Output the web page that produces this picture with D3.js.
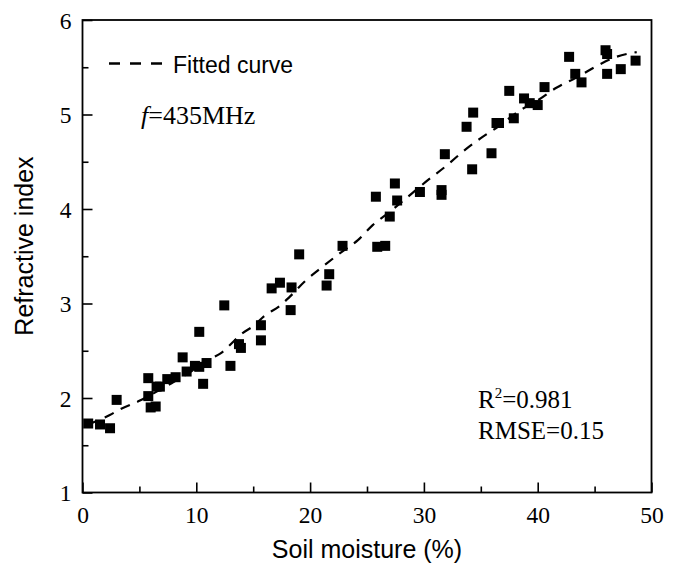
<!DOCTYPE html>
<html>
<head>
<meta charset="utf-8">
<script src="https://cdn.jsdelivr.net/npm/d3@7"></script>
<style>
  body { margin: 0; background: #fff; }
  svg { display: block; }
</style>
</head>
<body>
<div id="chart"></div>
<script>
// measured points: soil moisture (%) vs refractive index
let moisture = [0.5, 1.54, 2.42, 3.0, 5.78, 5.78, 5.99, 6.43, 6.51, 6.8,
    7.45, 8.18, 8.8, 9.15, 9.88, 10.26, 10.26, 10.6, 10.9, 12.46,
    13.0, 13.75, 13.92, 15.68, 15.68, 16.62, 17.35, 18.37, 18.29, 19.04,
    21.45, 21.68, 22.85, 25.9, 26.6, 27.0, 27.65, 27.45, 25.78, 29.65,
    31.55, 31.55, 31.84, 34.24, 35.94, 33.75, 34.33, 36.38, 36.6, 37.9,
    37.5, 38.8, 39.3, 40.0, 40.6, 42.76, 43.3, 43.85, 45.96, 46.1,
    46.1, 47.3, 48.6];
let refractive = [1.73, 1.72, 1.68, 1.98, 2.21, 2.02, 1.90, 1.91, 2.12, 2.12,
    2.20, 2.22, 2.43, 2.28, 2.34, 2.70, 2.33, 2.15, 2.37, 2.98,
    2.34, 2.57, 2.53, 2.77, 2.61, 3.16, 3.22, 3.17, 2.93, 3.52,
    3.19, 3.31, 3.61, 3.60, 3.61, 3.92, 4.09, 4.27, 4.13, 4.18,
    4.20, 4.15, 4.58, 4.42, 4.59, 4.87, 5.02, 4.91, 4.91, 4.96,
    5.25, 5.17, 5.12, 5.10, 5.29, 5.61, 5.43, 5.34, 5.68, 5.64,
    5.43, 5.48, 5.57];

// fitted curve
let fitX = [0.5, 2.4, 3.3, 5, 7, 9, 11.35, 12.1, 14.1, 15, 16, 17.4, 18.2, 19.5,
    21, 22.6, 24.2, 25.5, 27, 28.5, 30.4, 32, 33.45, 35, 36.5, 38.4, 40,
    41.6, 43.4, 45.3, 46.9, 48.7];
let fitY = [1.72, 1.82, 1.88, 1.97, 2.1, 2.24, 2.42, 2.47, 2.69, 2.76, 2.87, 2.98, 3.07, 3.23,
    3.38, 3.53, 3.67, 3.83, 3.97, 4.12, 4.31, 4.46, 4.61, 4.75, 4.87, 5.04, 5.15,
    5.28, 5.39, 5.52, 5.61, 5.66];

let xTicks = [0, 10, 20, 30, 40, 50];
let xMinor = [5, 15, 25, 35, 45];
let yTicks = [1, 2, 3, 4, 5, 6];
let yMinor = [1.5, 2.5, 3.5, 4.5, 5.5];

const chart_width = 676, chart_height = 566;
const plotLeft = 82.5, plotRight = 651.5, plotTop = 20, plotBottom = 492.5;
const serif = '"Liberation Serif", "Times New Roman", serif';
const sans = '"Liberation Sans", Arial, sans-serif';

const xScale = d3.scaleLinear().domain([0, 50]).range([plotLeft, plotRight]);
const yScale = d3.scaleLinear().domain([1, 6]).range([plotBottom, plotTop]);

let svg = d3.select('#chart')
    .append('svg')
    .attr('width', chart_width)
    .attr('height', chart_height);

// ticks pointing inward
let xAxis = d3.axisBottom(xScale).tickValues(xTicks).tickSize(-10).tickFormat(d3.format('d'));
let xAxisMinor = d3.axisBottom(xScale).tickValues(xMinor).tickSize(-6).tickFormat('');
let yAxis = d3.axisLeft(yScale).tickValues(yTicks).tickSize(-10).tickFormat(d3.format('d'));
let yAxisMinor = d3.axisLeft(yScale).tickValues(yMinor).tickSize(-6).tickFormat('');

function styleAxis(g) {
    g.select('.domain').remove();
    g.selectAll('line').attr('stroke', '#000').attr('stroke-width', 1.6);
    g.selectAll('text')
        .attr('fill', '#000')
        .style('font-family', serif)
        .style('font-size', '23.5px');
}

let gx = svg.append('g').attr('transform', 'translate(0,' + plotBottom + ')').call(xAxis).call(styleAxis);
svg.append('g').attr('transform', 'translate(0,' + plotBottom + ')').call(xAxisMinor).call(styleAxis);
let gy = svg.append('g').attr('transform', 'translate(' + plotLeft + ',0)').call(yAxis).call(styleAxis);
svg.append('g').attr('transform', 'translate(' + plotLeft + ',0)').call(yAxisMinor).call(styleAxis);

gx.selectAll('.tick text').attr('dy', null).attr('y', 30);
gy.selectAll('.tick text').attr('x', -11).attr('dy', '0.34em');

// frame
svg.append('rect')
    .attr('x', plotLeft)
    .attr('y', plotTop)
    .attr('width', plotRight - plotLeft)
    .attr('height', plotBottom - plotTop)
    .attr('fill', 'none')
    .attr('stroke', '#000')
    .attr('stroke-width', 1.8);

// fitted curve
let fitData = fitX.map((x, i) => ({x: x, y: fitY[i]}));
let fitLine = d3.line()
    .x(d => xScale(d.x))
    .y(d => yScale(d.y))
    .curve(d3.curveMonotoneX);

svg.append('path')
    .datum(fitData)
    .attr('d', fitLine)
    .attr('fill', 'none')
    .attr('stroke', '#000')
    .attr('stroke-width', 2.2)
    .attr('stroke-dasharray', '10,8');

// points
let pts = moisture.map((x, i) => ({x: x, y: refractive[i]}));
const sq = 10;
svg.append('g')
    .selectAll('rect')
    .data(pts)
    .enter()
    .append('rect')
    .attr('x', d => xScale(d.x) - sq / 2)
    .attr('y', d => yScale(d.y) - sq / 2)
    .attr('width', sq)
    .attr('height', sq)
    .attr('fill', '#000');

// legend
svg.append('line')
    .attr('x1', 109)
    .attr('x2', 167)
    .attr('y1', 63.5)
    .attr('y2', 63.5)
    .attr('stroke', '#000')
    .attr('stroke-width', 2.4)
    .attr('stroke-dasharray', '11,10');

svg.append('text')
    .attr('x', 173)
    .attr('y', 72.5)
    .style('font-family', sans)
    .style('font-size', '23px')
    .text('Fitted curve');

let fText = svg.append('text')
    .attr('x', 141)
    .attr('y', 124)
    .style('font-family', serif)
    .style('font-size', '26px');
fText.append('tspan').style('font-style', 'italic').text('f');
fText.append('tspan').text('=435MHz');

let r2 = svg.append('text')
    .attr('x', 478)
    .attr('y', 408)
    .style('font-family', serif)
    .style('font-size', '25px');
r2.append('tspan').text('R');
r2.append('tspan').attr('dy', -10).style('font-size', '15px').text('2');
r2.append('tspan').attr('dy', 10).text('=0.981');

svg.append('text')
    .attr('x', 478)
    .attr('y', 439)
    .style('font-family', serif)
    .style('font-size', '25px')
    .text('RMSE=0.15');

// axis titles
svg.append('text')
    .attr('x', (plotLeft + plotRight) / 2)
    .attr('y', 558)
    .attr('text-anchor', 'middle')
    .style('font-family', sans)
    .style('font-size', '25px')
    .text('Soil moisture (%)');

svg.append('text')
    .attr('transform', 'translate(33,246) rotate(-90)')
    .attr('text-anchor', 'middle')
    .style('font-family', sans)
    .style('font-size', '25px')
    .text('Refractive index');
</script>
</body>
</html>
